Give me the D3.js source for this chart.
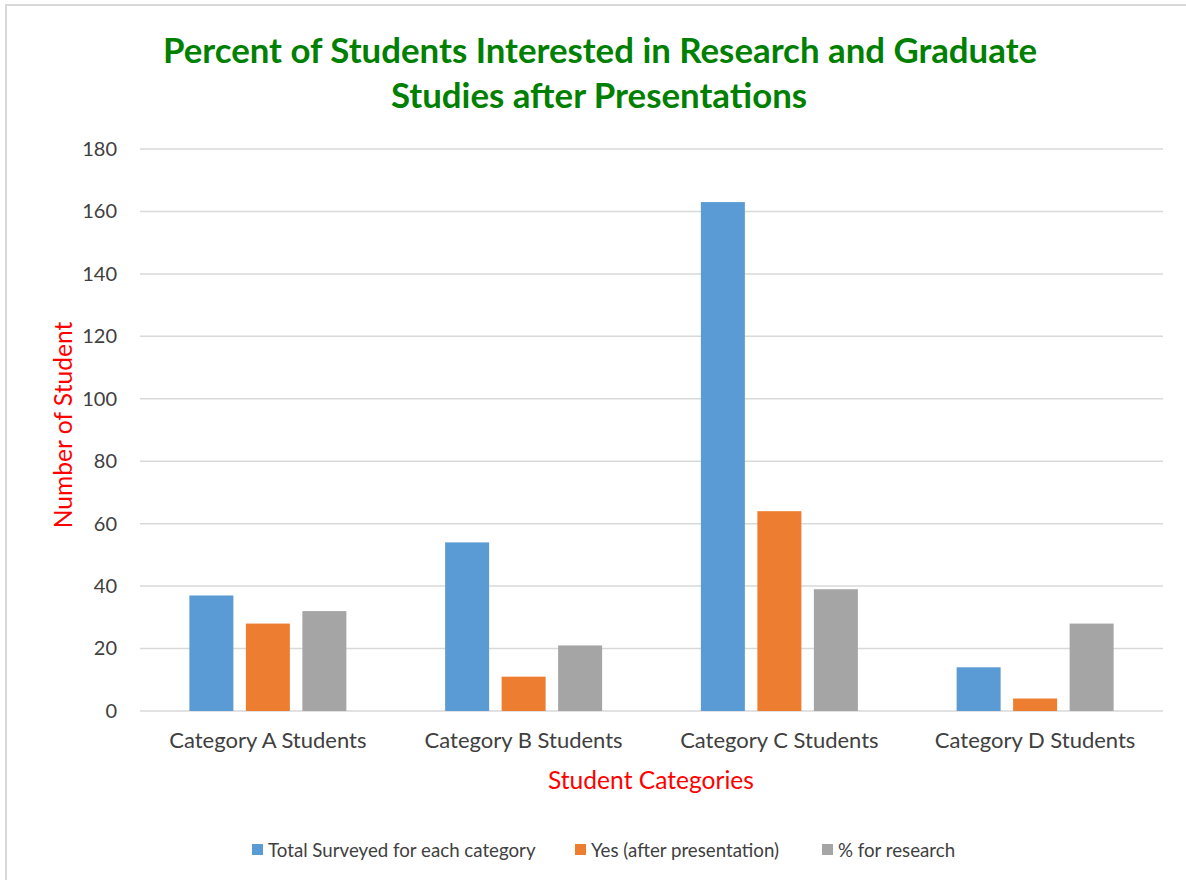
<!DOCTYPE html>
<html><head><meta charset="utf-8">
<script src="https://cdn.jsdelivr.net/npm/d3@7"></script>
<style>body{margin:0;background:#fff;}svg{display:block;}</style>
</head><body>
<script>
const categories = ["Category A Students","Category B Students","Category C Students","Category D Students"];
const seriesNames = ["Total Surveyed for each category","Yes (after presentation)","% for research"];
const totalSurveyed = [37, 54, 163, 14];
const yesAfter = [28, 11, 64, 4];
const pctResearch = [32, 21, 39, 28];
const yTicks = [0,20,40,60,80,100,120,140,160,180];
const colors = ["#5B9BD5","#ED7D31","#A5A5A5"];

const W = 1186, H = 880;
const font = "Lato, 'Open Sans', sans-serif";
const svg = d3.select("body").append("svg").attr("width", W).attr("height", H);
svg.append("rect").attr("x",6).attr("y",5).attr("width",W).attr("height",H).attr("fill","#fff").attr("stroke","#d9d9d9").attr("stroke-width",2);

const m = {left:140, right:1163, top:149, bottom:711};
const x = d3.scaleBand().domain(categories).range([m.left, m.right]);
const y = d3.scaleLinear().domain([0,180]).range([m.bottom, m.top]);
const barW = 44, gap = 12.5;

// gridlines
svg.append("g").selectAll("line").data(yTicks).join("line")
  .attr("x1", m.left).attr("x2", m.right)
  .attr("y1", d=>y(d)).attr("y2", d=>y(d))
  .attr("stroke","#d9d9d9").attr("stroke-width",1.5);

// y axis
const yAxis = svg.append("g").attr("transform",`translate(${m.left},0)`)
  .call(d3.axisLeft(y).tickValues(yTicks).tickSize(0).tickPadding(23));
yAxis.select(".domain").remove();
yAxis.selectAll("text").attr("font-family",font).attr("font-size",20).attr("fill","#404040");

// x axis
const xAxis = svg.append("g").attr("transform",`translate(0,${m.bottom})`)
  .call(d3.axisBottom(x).tickSize(0).tickPadding(21));
xAxis.select(".domain").remove();
xAxis.selectAll("text").attr("font-family",font).attr("font-size",22).attr("fill","#404040");

// bars
const series = [totalSurveyed, yesAfter, pctResearch];
series.forEach((vals, si) => {
  svg.append("g").selectAll("rect").data(vals).join("rect")
    .attr("x", (d,i)=> x(categories[i]) + x.bandwidth()/2 - (3*barW+2*gap)/2 + si*(barW+gap))
    .attr("y", d=>y(d)).attr("width", barW).attr("height", d=>y(0)-y(d))
    .attr("fill", colors[si]);
});

// title
const title = svg.append("text").attr("text-anchor","middle").attr("font-family",font)
  .attr("font-weight","bold").attr("font-size",34.8).attr("fill","#008000");
title.append("tspan").attr("x",600).attr("y",63).text("Percent of Students Interested in Research and Graduate");
title.append("tspan").attr("x",599).attr("y",108).text("Studies after Presentations");

// axis titles
svg.append("text").attr("transform","translate(72,425) rotate(-90)").attr("text-anchor","middle")
  .attr("font-family",font).attr("font-size",24.6).attr("fill","#ff0000").text("Number of Student");
svg.append("text").attr("x",651).attr("y",789).attr("text-anchor","middle")
  .attr("font-family",font).attr("font-size",24.6).attr("fill","#ff0000").text("Student Categories");

// legend
const legX = [252, 575, 822];
const lg = svg.append("g");
seriesNames.forEach((n,i)=>{
  lg.append("rect").attr("x",legX[i]).attr("y",844).attr("width",11).attr("height",11).attr("fill",colors[i]);
  lg.append("text").attr("x",legX[i]+16).attr("y",857).attr("font-family",font).attr("font-size",18.7).attr("fill","#404040").text(n);
});
</script>
</body></html>
